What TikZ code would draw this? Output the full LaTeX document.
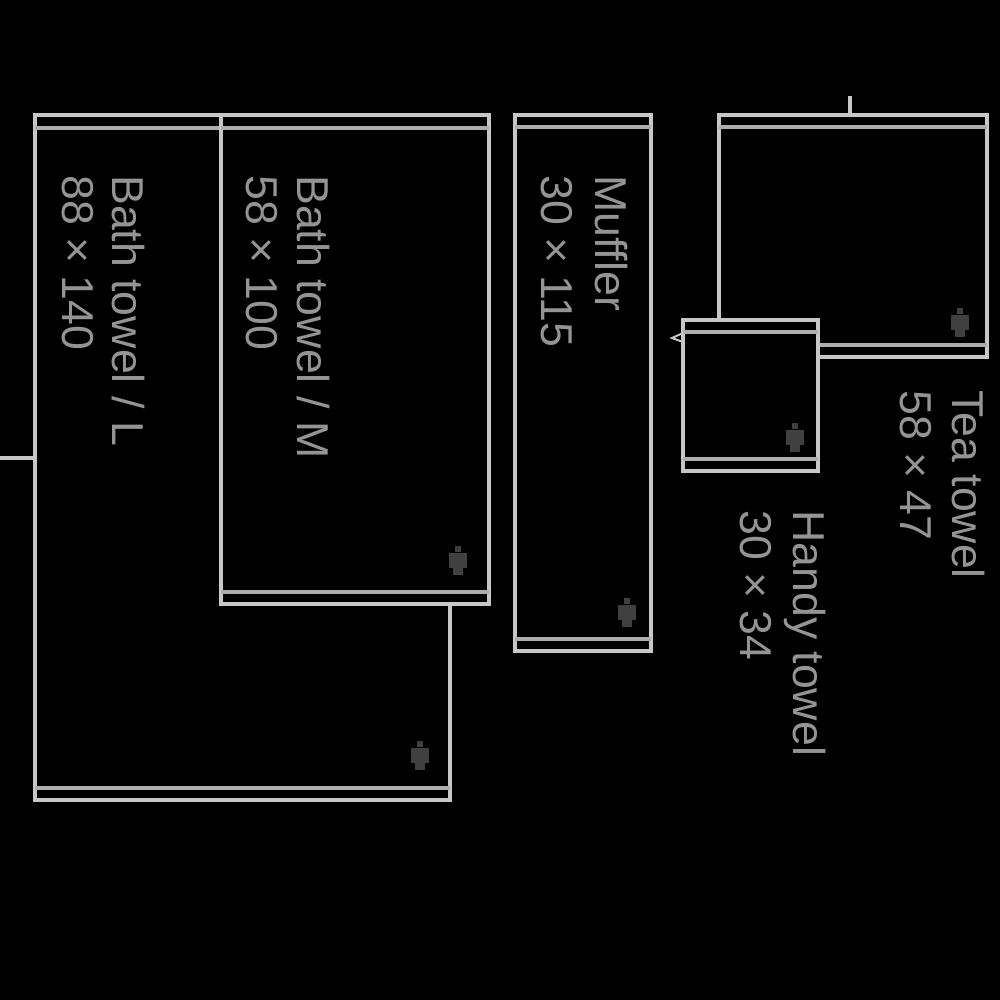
\documentclass[tikz,border=0pt]{standalone}
\usepackage{fontspec}
\setmainfont{Liberation Sans}
\begin{document}
\begin{tikzpicture}[x=0.75pt,y=-0.75pt,
  edge/.style={draw=black!22!white,line width=2.8pt},
  hem/.style={draw=black!32!white,line width=2.6pt},
  lbl/.style={rotate=-90,anchor=base west,inner sep=0pt,text=black!42!white,font=\fontsize{33.5}{35}\selectfont},
  icon/.style={fill=black!75!white,draw=none}]
\fill[black] (0,0) rectangle (1000,1000);
\useasboundingbox (0,0) rectangle (1000,1000);
% Bath towel L
\draw[edge] (35,115) rectangle (450,800);
\draw[hem] (35,128) -- (450,128);
\draw[hem] (35,788) -- (450,788);
% Bath towel M
\fill[black] (221,115) rectangle (489,604);
\draw[edge] (221,115) rectangle (489,604);
\draw[hem] (221,128) -- (489,128);
\draw[hem] (221,592) -- (489,592);
% Muffler
\draw[edge] (515,115) rectangle (651,651);
\draw[hem] (515,127) -- (651,127);
\draw[hem] (515,639) -- (651,639);
% Tea towel
\draw[edge] (719,115) rectangle (987,357);
\draw[hem] (719,127) -- (987,127);
\draw[hem] (719,345) -- (987,345);
% Handy towel
\fill[black] (683,320) rectangle (818,471);
\draw[edge] (683,320) rectangle (818,471);
\draw[hem] (683,332) -- (818,332);
\draw[hem] (683,459) -- (818,459);
% marks
\coordinate (la) at (0,458); \coordinate (lb) at (35,458);
\draw[edge] (la) -- (lb);
\coordinate (ta) at (850,96); \coordinate (tb) at (850,115);
\draw[edge] (ta) -- (tb);
\draw[edge,line width=1.5pt] (683,333) -- (672,338) -- (683,342);
% icons
\foreach \p in {(420,755),(458,560),(627,612),(960,322),(795,437)}{
  \fill[icon] \p +(-3,-14) rectangle +(3,-8);
  \fill[icon] \p +(-9,-7) rectangle +(9,8);
  \fill[icon] \p +(-5,8) rectangle +(5,15);
}
% labels
\node[lbl] (l1) at (112,175) {Bath towel / L};
\node[lbl] (l2) at (62,175) {88 × 140};
\node[lbl] (m1) at (297,175) {Bath towel / M};
\node[lbl] (m2) at (246,175) {58 × 100};
\node[lbl] (u1) at (595,175) {Muffler};
\node[lbl] (u2) at (541,175) {30 × 115};
\node[lbl] (t1) at (952,390) {Tea towel};
\node[lbl] (t2) at (900,390) {58 × 47};
\node[lbl] (h1) at (793,510) {Handy towel};
\node[lbl] (h2) at (740,510) {30 × 34};
\end{tikzpicture}
\end{document}
